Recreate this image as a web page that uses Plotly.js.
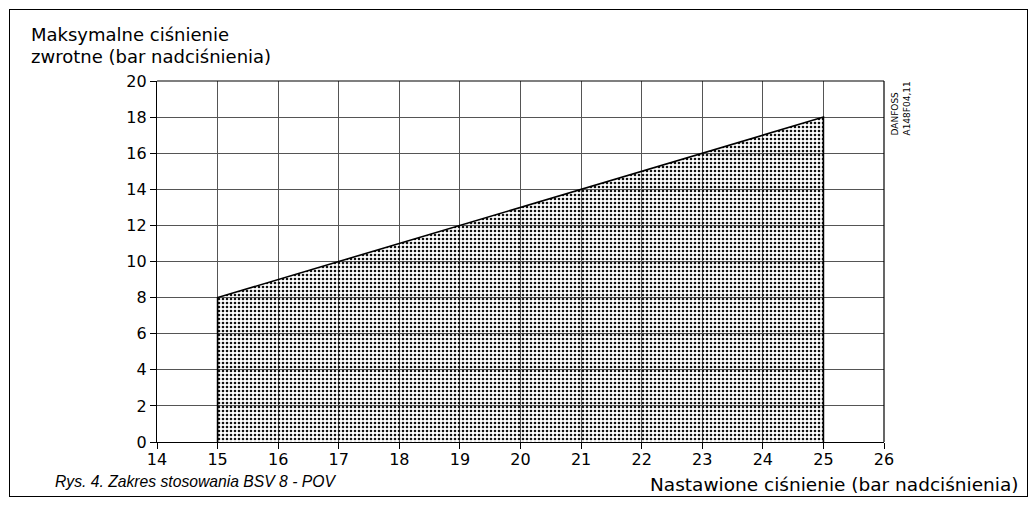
<!DOCTYPE html>
<html><head><meta charset="utf-8">
<script src="https://cdn.plot.ly/plotly-3.0.1.min.js"></script>
<style>
html,body{margin:0;padding:0;background:#fff;}
#wrap{position:relative;width:1032px;height:508px;}
#chart{width:1032px;height:508px;}
#frame{position:absolute;left:9px;top:9px;width:1017px;height:486px;border:1.5px solid #000;pointer-events:none;}
</style></head>
<body>
<div id="wrap"><div id="chart"></div><div id="frame"></div></div>
<script>
// Nastawione ciśnienie (bar) vs maksymalne ciśnienie zwrotne (bar)
const setPressure = [15, 15, 25, 25];
const maxBackPressure = [0, 8, 18, 0];
const xTicks = [14,15,16,17,18,19,20,21,22,23,24,25,26];
const yTicks = [0,2,4,6,8,10,12,14,16,18,20];

const font = "DejaVu Sans, Arial, sans-serif";
const trace = {
  x: setPressure, y: maxBackPressure, type: 'scatter', mode: 'lines',
  fill: 'toself', fillcolor: 'rgba(255,255,255,0)',
  fillpattern: {shape: '.', size: 4, solidity: 0.33, fgcolor: '#111', bgcolor: 'rgba(255,255,255,0)'},
  line: {color: '#000', width: 1.6}, hoverinfo: 'none'
};
const layout = {
  width: 1032, height: 508,
  margin: {l: 157, r: 148, t: 81, b: 66},
  paper_bgcolor: '#fff', plot_bgcolor: '#fff',
  showlegend: false,
  font: {family: font, color: '#000', size: 16},
  xaxis: {range: [14, 26], tickvals: xTicks, ticktext: xTicks.map(String),
    showgrid: true, gridcolor: '#555', gridwidth: 1, zeroline: false,
    showline: true, linecolor: '#000', linewidth: 1.2, mirror: false,
    ticks: 'outside', ticklen: 6, tickcolor: '#000', tickfont: {size: 16},
    ticklabelstandoff: -3,
    layer: 'above traces', fixedrange: true},
  yaxis: {range: [0, 20], tickvals: yTicks, ticktext: yTicks.map(String),
    showgrid: true, gridcolor: '#555', gridwidth: 1, zeroline: false,
    showline: true, linecolor: '#000', linewidth: 1.2,
    ticks: 'outside', ticklen: 6, tickcolor: '#000', tickfont: {size: 16},
    layer: 'above traces', fixedrange: true},
  annotations: [
    {text: 'Maksymalne ciśnienie', xref: 'paper', yref: 'paper',
     x: -0.176, y: 1.094, xanchor: 'left', yanchor: 'bottom', showarrow: false, align: 'left',
     font: {size: 18}},
    {text: 'zwrotne (bar nadciśnienia)', xref: 'paper', yref: 'paper',
     x: -0.176, y: 1.033, xanchor: 'left', yanchor: 'bottom', showarrow: false, align: 'left',
     font: {size: 18}},
    {text: 'DANFOSS<br>A148F04,11', xref: 'paper', yref: 'paper',
     x: 1.024, y: 0.925, xanchor: 'center', yanchor: 'middle', showarrow: false, textangle: -90,
     align: 'left', font: {size: 9}},
    {text: '<i>Rys. 4. Zakres stosowania BSV 8 - POV</i>', xref: 'paper', yref: 'paper',
     x: -0.143, y: -0.1385, xanchor: 'left', yanchor: 'bottom', showarrow: false,
     font: {family: 'Liberation Sans, Arial, sans-serif', size: 15.7}},
    {text: 'Nastawione ciśnienie (bar nadciśnienia)', xref: 'paper', yref: 'paper',
     x: 1.188, y: -0.1525, xanchor: 'right', yanchor: 'bottom', showarrow: false,
     font: {size: 18.5}}
  ],
  shapes: [
    {type: 'line', xref: 'paper', yref: 'paper', x0: 0, x1: 1, y0: 1, y1: 1, line: {color: '#000', width: 1.2}},
    {type: 'line', xref: 'paper', yref: 'paper', x0: 1, x1: 1, y0: 0, y1: 1, line: {color: '#000', width: 1.2}}
  ]
};
Plotly.newPlot('chart', [trace], layout, {staticPlot: true, displayModeBar: false});
</script>
</body></html>
